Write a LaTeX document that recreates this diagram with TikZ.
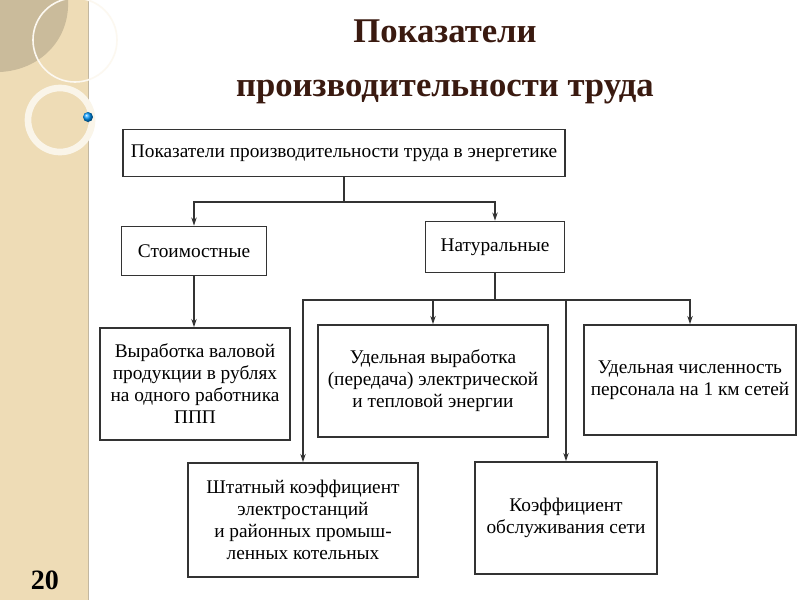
\documentclass[tikz,border=0pt]{standalone}
\usepackage{fontspec}
\setmainfont{Liberation Serif}
\usetikzlibrary{arrows.meta}
\definecolor{beige}{HTML}{EEDCB6}
\definecolor{titlec}{HTML}{3A1A10}
\begin{document}
\begin{tikzpicture}[x=0.75pt,y=-0.75pt,
  bx/.style={draw=black!80,line width=1.3pt,fill=white,align=center,inner sep=2pt,font=\fontsize{14.5}{16.5}\selectfont},
  ln/.style={draw=black!80,line width=1.2pt},
  ar/.style={ln,-{Stealth[length=6pt,width=4pt]}}]
\useasboundingbox (0,0) rectangle (800,600);
\fill[white] (0,0) rectangle (800,600);
\fill[beige] (0,0) rectangle (88,600);
\draw[beige!60!gray,line width=0.6pt] (88,0) -- (88,600);
\fill[black!15!beige] (0,0) -- (68,0) .. controls (70,40) and (40,70) .. (0,72) -- cycle;
\draw[white!80!beige,line width=1.2pt] (75,40) circle (42);
\draw[white!70!beige,line width=5pt] (60,120) circle (32);
\shade[ball color=cyan!60!blue] (88,117) circle (5);
\node[font=\bfseries\fontsize{21}{23}\selectfont] (pn) at (45,580) {20};
\node[font=\bfseries\fontsize{26}{40}\selectfont,text=titlec,align=center] (title) at (445,62) {Показатели\\производительности труда};
\node[bx,minimum width=442*0.75pt,minimum height=47*0.75pt] (top) at (344,153) {Показатели производительности труда в энергетике};
\node[bx,minimum width=145*0.75pt,minimum height=49*0.75pt] (st) at (194,251) {Стоимостные};
\node[bx,minimum width=139*0.75pt,minimum height=51*0.75pt] (nat) at (495,247) {Натуральные};
\node[bx,minimum width=190*0.75pt,minimum height=112*0.75pt] (vyr) at (195,384) {Выработка валовой\\продукции в рублях\\на одного работника\\ППП};
\node[bx,minimum width=230*0.75pt,minimum height=112*0.75pt] (ud) at (433,381) {Удельная выработка\\(передача) электрической\\и тепловой энергии};
\node[bx,minimum width=212*0.75pt,minimum height=110*0.75pt] (uch) at (690,380) {Удельная численность\\персонала на 1 км сетей};
\node[bx,minimum width=230*0.75pt,minimum height=114*0.75pt] (sht) at (303,520) {Штатный коэффициент\\электростанций\\и районных промыш-\\ленных котельных};
\node[bx,minimum width=182*0.75pt,minimum height=112*0.75pt] (kf) at (566,518) {Коэффициент\\обслуживания сети};
\coordinate (j1) at (344,202);
\coordinate (j2) at (495,300);
\draw[ln] (top.south) -- (j1);
\draw[ar] (j1) -| (st.north);
\draw[ar] (j1) -| (nat.north);
\draw[ar] (st.south) -- (st.south |- vyr.north);
\draw[ln] (nat.south) -- (j2);
\draw[ar] (j2) -| (sht.north);
\draw[ar] (j2) -| (ud.north);
\draw[ar] (j2) -| (kf.north);
\draw[ar] (j2) -| (uch.north);
\end{tikzpicture}
\end{document}
